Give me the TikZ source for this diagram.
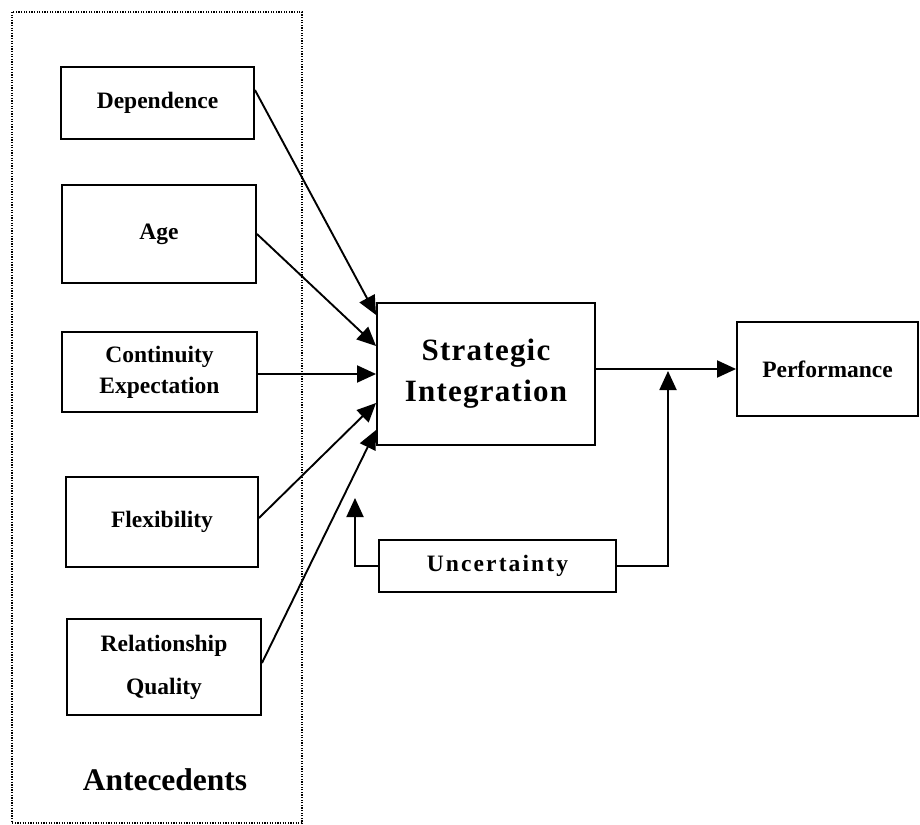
\documentclass[tikz,border=0pt]{standalone}
\usepackage{fontspec}
\setmainfont{Liberation Serif}
\usetikzlibrary{arrows.meta}
\begin{document}
\begin{tikzpicture}[x=1pt,y=-1pt,
  box/.style={draw, line width=1.9pt, inner sep=0pt, align=center,
    font=\fontsize{23.5}{31}\selectfont\bfseries},
  link/.style={line width=1.9pt, -{Triangle[length=19pt,width=17pt]}},
  group/.style={line width=1.6pt, dash pattern=on 1.3pt off 1.3pt}]
\useasboundingbox (0,0) rectangle (920,824);

% antecedents group
\draw[group] (12,12) rectangle (302,823);
\node[font=\fontsize{31.5}{36}\selectfont\bfseries] (ant) at (165,780) {Antecedents};

% antecedent boxes
\node[box, minimum width=193pt, minimum height=72pt] (dep) at (157.5,103) {Dependence};
\node[box, minimum width=194pt, minimum height=98pt] (age) at (159,234) {Age};
\node[box, minimum width=195pt, minimum height=80pt] (cont) at (159.5,372) {Continuity\\Expectation};
\node[box, minimum width=192pt, minimum height=90pt] (flex) at (162,522) {Flexibility};
\node[box, minimum width=194pt, minimum height=96pt] (rel) at (164,667) {Relationship\\[12pt]Quality};

% central construct, outcome and moderator
\node[box, minimum width=218pt, minimum height=142pt,
  font=\fontsize{31}{41}\selectfont\bfseries\addfontfeature{LetterSpace=4}] (si) at (486,374) {Strategic\\Integration};
\node[box, minimum width=181pt, minimum height=94pt] (perf) at (827.5,369) {Performance};
\node[box, minimum width=237pt, minimum height=52pt,
  font=\fontsize{23.5}{26}\selectfont\bfseries\addfontfeature{LetterSpace=9}] (unc) at (497.5,566) {Uncertainty};

\coordinate (j) at (668,371);
\coordinate (fb) at (355,498);

% antecedents -> strategic integration
\draw[link] ([yshift=13pt]dep.east) -- ([yshift=59pt]si.west);
\draw[link] (age.east) -- ([yshift=28pt]si.west);
\draw[link] (cont.east |- si.west) -- (si.west);
\draw[link] ([yshift=4pt]flex.east) -- ([yshift=-29pt]si.west);
\draw[link] ([yshift=4pt]rel.east) -- ([yshift=-56pt]si.west);

% strategic integration -> performance
\draw[link] (si.east |- perf.west) -- (perf.west);

% moderating paths of uncertainty
\draw[link] (unc.east) -| (j);
\draw[link] (unc.west) -| (fb);
\end{tikzpicture}
\end{document}
